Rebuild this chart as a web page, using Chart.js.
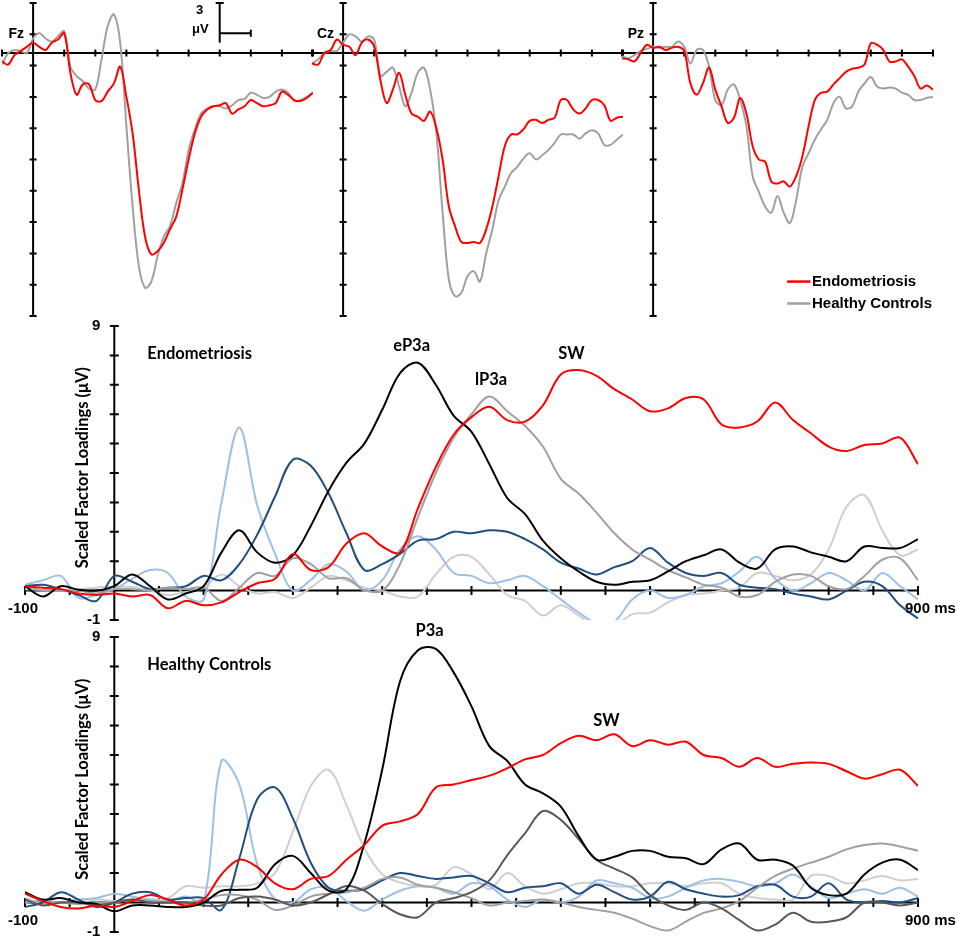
<!DOCTYPE html>
<html>
<head>
<meta charset="utf-8">
<script src="https://cdn.jsdelivr.net/npm/chart.js@4.4.0/dist/chart.umd.min.js"></script>
<style>
  html, body { margin: 0; padding: 0; background: #fff; }
  #wrap { position: relative; width: 957px; height: 939px; overflow: hidden; }
  canvas { position: absolute; }
</style>
</head>
<body>
<div id="wrap">
  <canvas id="fz" width="320" height="320" style="left:0;top:0"></canvas>
  <canvas id="cz" width="320" height="320" style="left:310px;top:0"></canvas>
  <canvas id="pz" width="337" height="320" style="left:620px;top:0"></canvas>
  <canvas id="endo" width="957" height="322" style="left:0;top:310px"></canvas>
  <canvas id="hc" width="957" height="327" style="left:0;top:612px"></canvas>
</div>
<script>
// time points (ms), shared by every series
const TIMES = [-100,-80,-60,-40,-20,0,20,40,60,80,100,120,140,160,180,200,220,240,260,280,
  300,320,340,360,380,400,420,440,460,480,500,520,540,560,580,600,620,640,660,680,
  700,720,740,760,780,800,820,840,860,880,900];

// ERP waveforms (µV) at Fz / Cz / Pz
const FZ_ENDO = [-0.8,-1.1,-0.2,0.2,0.6,1.0,0.6,0.3,1.0,1.3, 1.9,-1.9,-4.0,-3.0,-3.0,-4.5,-4.6,-3.7,-2.9,-1.3,
  -4.2,-7.7,-13.1,-17.6,-19.3,-19.0,-18.2,-16.9,-15.7,-13.1, -10.2,-7.7,-6.1,-5.4,-5.1,-5.0,-4.8,-5.8,-5.4,-5.1,
  -4.5,-4.8,-5.1,-5.0,-4.8,-3.7,-4.0,-4.5,-4.6,-4.3, -3.8];
const FZ_HC = [-1.1,0,0.3,0.2,0,1.4,1.9,1.4,1.1,1.6, 2.1,-1.3,-2.2,-2.7,-3.4,-3.5,-0.6,2.6,3.7,1.0,
  -7.0,-14.7,-20.4,-22.5,-21.9,-19.5,-17.6,-16.6,-14.4,-12.5, -9.3,-7.3,-5.8,-5.3,-5.1,-5.1,-5.3,-5.0,-4.5,-4.4,
  -3.8,-4.0,-4.3,-4.2,-3.7,-3.5,-3.8,-4.6,-4.5,-4.2, -3.8];
const CZ_ENDO = [-1.0,-1.1,0,0.3,1.3,0.8,0.6,-0.2,1.0,1.3, 0.6,-2.6,-4.8,-3.5,-1.9,-4.0,-5.8,-6.1,-6.5,-5.6,
  -7.2,-10.2,-14.7,-16.6,-18.1,-18.2,-18.1,-18.2,-16.9,-14.7, -11.8,-8.9,-7.8,-7.8,-7.3,-6.5,-6.4,-6.7,-6.4,-6.2,
  -4.5,-4.5,-5.4,-5.8,-5.3,-4.5,-4.5,-5.0,-6.5,-6.2, -6.1];
const CZ_HC = [-1.0,-0.6,0,0.2,0.2,1.0,1.8,1.6,1.1,1.6, 1.3,-2.2,-1.8,-1.4,-3.2,-5.1,-3.8,-1.9,-1.4,-3.5,
  -7.7,-15.3,-21.7,-23.3,-23.0,-21.4,-20.9,-21.9,-19.2,-16.9, -14.1,-12.8,-11.5,-10.9,-10.1,-9.6,-10.2,-9.8,-9.3,-8.6,
  -7.8,-7.8,-7.8,-8.2,-7.7,-7.4,-7.7,-8.8,-8.8,-8.3, -7.8];
const PZ_ENDO = [-0.5,-0.6,-0.8,0,0.8,0.5,0.6,0.3,0.5,0.6, 0.2,-2.9,-4.0,-2.9,-1.4,-3.5,-5.1,-6.7,-6.2,-4.3,
  -5.8,-8.9,-10.2,-10.4,-12.3,-12.5,-12.3,-12.8,-11.8,-9.9, -7.0,-4.5,-3.8,-3.7,-3.0,-2.4,-1.8,-1.5,-1.4,-1.1,
  0.95,0.8,0.3,-0.8,-0.8,-0.6,-1.3,-2.2,-3.4,-3.1, -3.5];
const PZ_HC = [-0.3,-0.5,-0.2,0.2,0.4,0.6,0.5,0.6,0.6,1.1, 0.6,-1.0,0.3,0.3,-1.3,-4.5,-5.0,-3.5,-3.0,-4.5,
  -7.0,-11.8,-13.3,-14.7,-15.3,-13.7,-15.3,-16.3,-14.1,-10.9, -9.6,-8.3,-7.3,-6.4,-4.8,-4.2,-5.3,-5.1,-3.7,-2.9,
  -2.3,-3.2,-3.4,-3.3,-3.4,-3.8,-4.0,-4.5,-4.5,-4.3, -4.2];

// scaled factor loadings, Endometriosis group
const E_RED = [0.15,0.1,0.05,-0.1,-0.15,-0.1,-0.2,-0.15,-0.6,-0.35, -0.5,-0.4,-0.05,0.25,0.4,1.25,0.7,0.8,1.6,1.95,
  1.5,1.3,2.8,4.2,5.3,5.9,6.25,5.8,5.75,6.3, 7.35,7.5,7.3,6.85,6.5,6.1,6.2,6.55,6.5,5.65,
  5.55,5.75,6.4,5.8,5.35,4.9,4.75,4.95,5.0,5.2, 4.3];
const E_BLACK = [0.15,-0.2,0.15,0.03,0,0.15,0.55,0.15,-0.3,-0.1, 0.15,1.3,2.05,1.3,0.95,1.2,2.2,3.4,4.35,5.0,
  6.15,7.4,7.75,7.0,5.95,5.4,4.3,3.15,2.6,1.7, 1.1,0.65,0.3,0.2,0.3,0.35,0.65,1.0,1.2,1.4,
  0.95,0.75,1.4,1.5,1.3,1.15,1.0,1.5,1.45,1.45, 1.75];
const E_GREY = [0.15,0,0,0,-0.1,0.05,0.05,0,0.1,0.05, 0.1,-0.35,0.1,0.6,0.5,1.1,0.9,0.42,0.42,0.02,
  0,0.9,2.5,4.0,5.2,6.0,6.6,6.1,5.6,4.9, 3.8,3.3,2.65,1.95,1.4,1.05,0.7,0.45,0.2,0.1,
  -0.2,-0.15,0.3,0.55,0.5,0.15,0.05,0.5,1.05,1.1, 0.35];
const E_DBLUE = [0.15,0.2,0.05,-0.15,-0.35,0.5,0.3,0.05,0.1,0.15, 0.5,0.35,0.9,1.9,3.2,4.45,4.25,3.3,1.95,0.7,
  0.9,1.25,1.7,1.75,2.0,1.95,2.05,2.0,1.75,1.4, 0.95,0.75,0.55,0.8,1.0,1.45,0.95,0.6,0.5,0.6,
  0.2,0.1,0.05,-0.1,-0.2,-0.3,0,0.3,0.15,-0.5, -0.95];
const E_LBLUE = [0.2,0.35,0.5,-0.25,-0.15,0.05,0.4,0.7,0.6,-0.2, -0.3,3.0,5.55,2.9,1.25,0,0.36,0.9,0.65,0,
  0.35,1.4,1.85,1.4,0.6,0.5,0.25,0.35,0.5,0.15, -0.3,-0.75,-1.1,-1.05,-0.3,0,-0.25,-0.15,0.15,0.25,
  0.65,1.15,0.4,0,0.25,0.6,0.35,0,0.6,0.15, -0.3];
const E_LGREY = [0.05,0.02,0,0.05,0.1,0.15,0.12,0,-0.15,-0.05, 0.1,0.55,0.15,-0.1,-0.05,-0.25,0.1,0.5,0.35,0.1,
  0,-0.2,-0.2,0.55,1.15,1.15,0.55,-0.15,-0.35,-0.85, -0.5,-0.85,-1.25,-1.2,-0.8,-0.75,-0.4,-0.15,-0.1,0,
  0.1,0.6,0.5,0.35,0.55,1.4,2.85,3.25,2.05,1.2, 1.4];

// scaled factor loadings, Healthy Controls group
const H_RED = [0.3,0.05,-0.15,-0.2,-0.1,-0.15,0.05,0.25,0.1,-0.1, 0.1,0.95,1.45,1.2,0.65,0.45,0.8,0.9,1.45,1.95,
  2.6,2.75,3.0,3.9,4.0,4.15,4.3,4.55,4.85,5.0, 5.4,5.65,5.5,5.7,5.3,5.5,5.35,5.45,5.0,4.9,
  4.6,4.9,4.6,4.7,4.75,4.7,4.45,4.2,4.35,4.5, 3.95];
const H_BLACK = [0.35,0.1,0.15,0,-0.05,-0.3,-0.1,-0.1,-0.15,-0.15, 0,0.4,0.43,0.5,1.3,1.58,1.0,0.4,0.45,2.0,
  4.5,7.5,8.55,8.6,7.8,6.65,5.3,4.8,4.0,3.7, 3.25,2.25,1.45,1.55,1.75,1.75,1.55,1.5,1.3,1.8,
  2.0,1.45,1.45,1.25,0.5,0.25,0.3,0.95,1.35,1.45, 1.1];
const H_DGREY = [0.1,-0.1,0,0,-0.1,0,0.1,0,0,0, -0.1,-0.1,0.15,0.2,0.1,-0.1,0,0.28,0.56,0.4,
  -0.05,-0.4,-0.5,0,0.15,0.35,0.75,1.6,2.35,3.1, 2.8,2.15,1.45,1.15,0.85,0.25,-0.1,-0.25,0,-0.2,
  -0.6,-0.95,-0.75,-0.35,-0.65,-0.65,-0.5,0,0,-0.1, 0];
const H_GREY = [0,0.05,0,-0.05,0,0,0.1,0.05,0,0, 0.1,0.25,0.25,0.1,-0.25,-0.1,0.2,0.3,0.35,0.5,
  0.8,0.85,0.6,0.5,0.35,0.15,-0.1,0,0.05,0.1, 0,-0.15,-0.25,-0.35,-0.55,-0.8,-0.95,-0.65,-0.35,-0.2,
  0.05,0.5,0.9,1.15,1.35,1.55,1.8,1.95,2.0,1.9, 1.75];
const H_DBLUE = [-0.15,0,0.35,0.1,-0.15,0,0.3,0.35,0.1,0.15, 0.15,-0.25,1.5,3.5,3.9,2.85,1.35,0.5,0.4,0.45,
  0.75,1.0,0.9,0.8,0.85,0.9,0.65,0.35,0.5,0.55, 0.65,0.3,0.6,0.35,0.1,0.2,0.7,0.45,0.3,0.2,
  0.25,0.55,0.6,0.2,0.2,0.65,0.1,0,0.05,0, 0.15];
const H_LBLUE = [0.15,-0.05,0,0.1,0.15,0.3,0.2,0.1,0.05,0.2, 0,4.8,4.0,1.3,0.1,0,0.45,0.5,0.05,-0.28,
  0.1,0.4,0.55,0.5,0.3,0.65,0.55,0.1,-0.15,0.1, 0,0.2,0.75,0.65,0.5,0.15,0.2,0.5,0.75,0.8,
  0.7,0.55,0.65,0.95,0.55,0.15,0.3,0.45,0.3,0.5, 0.2];
const H_LGREY = [0,0.05,0,0,0.1,0.05,0.1,0.1,0.15,0.55, 0.5,0.55,0.55,0.65,1.0,2.4,3.95,4.5,3.3,1.85,
  0.96,0.68,0.56,0.6,1.2,0.95,0.45,1.0,0.55,0.3, 0.45,0.65,0.65,0.55,0.55,0.65,0.65,0.55,0.65,0.65,
  0.3,0.15,0.1,0.1,0.9,0.9,0.65,0.75,0.9,0.75, 0.8];

const C = {
  red: '#ff0000', black: '#000000', grey: '#a0a0a0', dgrey: '#595959',
  lgrey: '#cfcfcf', dblue: '#1f4e82', lblue: '#9dc0e6'
};
const ARIAL_B = "'Liberation Sans', Arial, sans-serif";
const TOP_FONT = "bold 15px " + ARIAL_B;
const LOW_FONT = "bold 16.5px Lato, 'Open Sans', sans-serif";

function series(vals, color, width) {
  return {
    data: TIMES.map((t, i) => ({ x: t, y: vals[i] })),
    borderColor: color, borderWidth: width || 2, pointRadius: 0,
    tension: 0.35, fill: false
  };
}

function ticksBetween(from, to, step) {
  const out = [];
  for (let v = from; v <= to + 1e-9; v += step) out.push(+v.toFixed(3));
  return out;
}

// axes crossing at (0,0) with ticks through the line, plus text and extras
function crossAxes(cfg) {
  const t = cfg.tick || 3.5;
  return {
    id: 'crossAxes',
    beforeDatasetsDraw(chart) {
      const ctx = chart.ctx, xs = chart.scales.x, ys = chart.scales.y;
      const x0 = xs.getPixelForValue(0), y0 = ys.getPixelForValue(0);
      ctx.save();
      ctx.strokeStyle = '#000';
      ctx.lineWidth = 2;
      ctx.beginPath();
      ctx.moveTo(xs.left, y0); ctx.lineTo(xs.right, y0);
      ctx.moveTo(x0, ys.top); ctx.lineTo(x0, ys.bottom);
      cfg.xTicks.forEach(v => {
        const p = xs.getPixelForValue(v);
        ctx.moveTo(p, y0 - t); ctx.lineTo(p, y0 + t);
      });
      cfg.yTicks.forEach(v => {
        const p = ys.getPixelForValue(v);
        ctx.moveTo(x0 - t, p); ctx.lineTo(x0 + t, p);
      });
      ctx.stroke();
      ctx.restore();
    },
    afterDraw(chart) {
      const ctx = chart.ctx, xs = chart.scales.x, ys = chart.scales.y;
      ctx.save();
      ctx.fillStyle = '#000';
      (cfg.labels || []).forEach(l => {
        const px = xs.getPixelForValue(l.x) + (l.dx || 0);
        const py = ys.getPixelForValue(l.y) + (l.dy || 0);
        ctx.font = l.font || cfg.font;
        ctx.textAlign = l.align || 'left';
        ctx.textBaseline = 'middle';
        if (l.rotate) {
          ctx.save(); ctx.translate(px, py); ctx.rotate(l.rotate);
          ctx.fillText(l.text, 0, 0); ctx.restore();
        } else {
          ctx.fillText(l.text, px, py);
        }
      });
      if (cfg.extra) cfg.extra(ctx, xs, ys);
      ctx.restore();
    }
  };
}

function makeChart(id, datasets, cfg) {
  new Chart(document.getElementById(id), {
    type: 'line',
    data: { datasets: datasets },
    options: {
      responsive: false, animation: false, devicePixelRatio: 1,
      layout: { padding: cfg.padding },
      plugins: { legend: { display: false }, tooltip: { enabled: false } },
      events: [],
      scales: {
        x: { type: 'linear', min: -100, max: 900, display: false },
        y: { type: 'linear', min: cfg.yMin, max: cfg.yMax, display: false }
      }
    },
    plugins: [crossAxes(cfg)]
  });
}

// ---- top row: ERPs ----
const TOP_MIN = -25.2, TOP_MAX = 4.8;
const topYTicks = ticksBetween(TOP_MIN, TOP_MAX, 3);
const topXTicks = ticksBetween(-100, 900, 100);
const topPad = { left: 2, right: 7, top: 3, bottom: 4 };

function topCfg(name, pad, extra) {
  return {
    padding: pad, yMin: TOP_MIN, yMax: TOP_MAX,
    xTicks: topXTicks, yTicks: topYTicks, font: TOP_FONT, tick: 3.5,
    labels: [{ text: name, x: 0, y: 1.8, dx: -9, align: 'right', font: "bold 14px " + ARIAL_B }],
    extra: extra
  };
}

function line(ctx, x1, y1, x2, y2) {
  ctx.beginPath(); ctx.moveTo(x1, y1); ctx.lineTo(x2, y2); ctx.stroke();
}

// 3 µV / 100 ms calibration bar
function scaleBar(ctx, xs, ys) {
  const bx = xs.getPixelForValue(600), ex = xs.getPixelForValue(700);
  const top = ys.getPixelForValue(4.8), bot = ys.getPixelForValue(1.0), hy = ys.getPixelForValue(1.9);
  ctx.strokeStyle = '#000'; ctx.lineWidth = 2;
  line(ctx, bx, top, bx, bot);
  line(ctx, bx - 4, top, bx + 4, top);
  line(ctx, bx, hy, ex, hy);
  line(ctx, ex, hy - 3.5, ex, hy + 3.5);
  ctx.font = "bold 13px " + ARIAL_B;
  ctx.textBaseline = 'middle';
  ctx.textAlign = 'center';
  ctx.fillText('3', bx - 20, top + 7);
  ctx.textAlign = 'right';
  ctx.fillText('\u03bcV', bx - 11, hy - 4);
}

function topLegend(ctx, xs, ys) {
  const items = [['Endometriosis', C.red, -21.9], ['Healthy Controls', C.grey, -24.0]];
  ctx.font = TOP_FONT;
  ctx.textAlign = 'left'; ctx.textBaseline = 'middle';
  items.forEach(([label, color, v]) => {
    const y = ys.getPixelForValue(v);
    ctx.strokeStyle = color; ctx.lineWidth = 2.5;
    line(ctx, xs.getPixelForValue(431), y, xs.getPixelForValue(506), y);
    ctx.fillStyle = '#000';
    ctx.fillText(label, xs.getPixelForValue(511), y);
  });
}

makeChart('fz', [series(FZ_ENDO, C.red), series(FZ_HC, C.grey)], topCfg('Fz', topPad, scaleBar));
makeChart('cz', [series(CZ_ENDO, C.red), series(CZ_HC, C.grey)], topCfg('Cz', topPad));
makeChart('pz', [series(PZ_ENDO, C.red), series(PZ_HC, C.grey)],
  topCfg('Pz', { left: 2, right: 24, top: 3, bottom: 4 }, topLegend));

// ---- factor loading panels ----
const lowXTicks = ticksBetween(-100, 900, 50);
const lowYTicks = ticksBetween(-1, 9, 1);

function lowCfg(pad, groupName, peaks) {
  return {
    padding: pad, yMin: -1, yMax: 9, xTicks: lowXTicks, yTicks: lowYTicks, font: LOW_FONT, tick: 4.5,
    labels: [
      { text: '9', x: 0, y: 9, dx: -14, align: 'right', font: "bold 15px " + ARIAL_B },
      { text: '-1', x: 0, y: -1, dx: -14, align: 'right', font: "bold 15px " + ARIAL_B },
      { text: '-100', x: -100, y: 0, dx: -17, dy: 18, font: "bold 15px " + ARIAL_B },
      { text: '900 ms', x: 900, y: 0, dx: -13, dy: 18, font: "bold 15px " + ARIAL_B },
      { text: 'Scaled Factor Loadings (\u03bcV)', x: 0, y: 4.18, dx: -32, rotate: -Math.PI / 2,
        align: 'center', font: "bold 16.5px Lato, 'Open Sans', sans-serif" },
      { text: groupName, x: 37, y: 8.05 }
    ].concat(peaks)
  };
}

makeChart('endo', [
  series(E_RED, C.red), series(E_BLACK, C.black), series(E_GREY, C.grey),
  series(E_DBLUE, C.dblue), series(E_LBLUE, C.lblue), series(E_LGREY, C.lgrey)
], lowCfg({ left: 25, right: 39, top: 16, bottom: 12 }, 'Endometriosis', [
  { text: 'eP3a', x: 333, y: 8.33, align: 'center' },
  { text: 'lP3a', x: 422, y: 7.18, align: 'center' },
  { text: 'SW', x: 512, y: 8.06, align: 'center' }
]));

makeChart('hc', [
  series(H_RED, C.red), series(H_BLACK, C.black), series(H_DGREY, C.dgrey), series(H_GREY, C.grey),
  series(H_DBLUE, C.dblue), series(H_LBLUE, C.lblue), series(H_LGREY, C.lgrey)
], lowCfg({ left: 25, right: 39, top: 25, bottom: 7 }, 'Healthy Controls', [
  { text: 'P3a', x: 353, y: 9.22, align: 'center' },
  { text: 'SW', x: 551, y: 6.17, align: 'center' }
]));
</script>
</body>
</html>
